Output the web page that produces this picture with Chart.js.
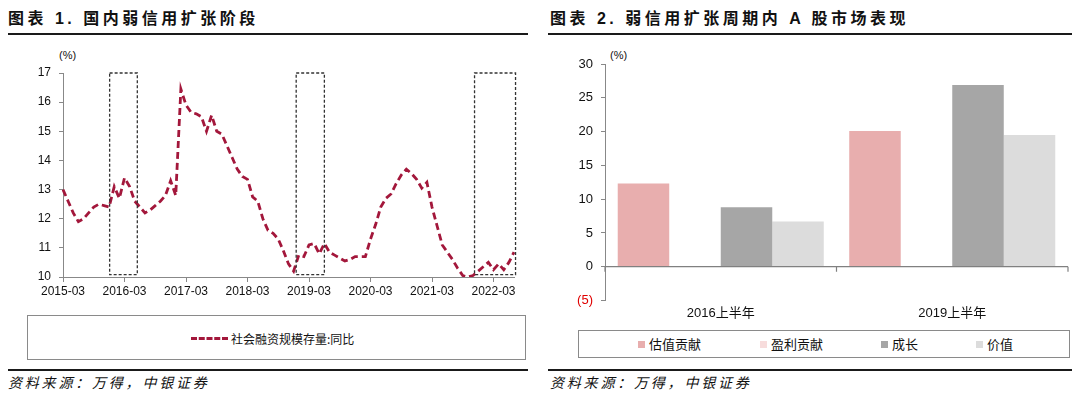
<!DOCTYPE html>
<html>
<head>
<meta charset="utf-8">
<script src="https://cdn.jsdelivr.net/npm/chart.js@4.4.1/dist/chart.umd.min.js"></script>
<style>
  body { margin: 0; width: 1080px; height: 394px; background: #fff; position: relative; overflow: hidden;
         font-family: "Liberation Sans", Arial, "Noto Sans CJK SC", sans-serif; color: #111; }
  .title { position: absolute; top: 5px; font: bold 16px "Liberation Sans", "Noto Sans CJK SC"; letter-spacing: 3.5px; white-space: nowrap; }
  .rule { position: absolute; height: 2px; background: #1a1a1a; }
  .unit { position: absolute; font-size: 11px; }
  .box { position: absolute; border: 1.5px solid #8a8a8a; box-sizing: border-box; }
  .src { position: absolute; top: 372px; font: italic 14px "Noto Sans CJK SC"; letter-spacing: 2.8px; white-space: nowrap; }
  .chart { position: absolute; }
  .leg { position: absolute; font: 12px "Noto Sans CJK SC"; white-space: nowrap; }
  .leg2 { position: absolute; font: 13px "Noto Sans CJK SC"; white-space: nowrap; }
  .sq { display: inline-block; width: 7px; height: 7px; margin-right: 4px; vertical-align: 1px; }
</style>
</head>
<body>
<div class="title" style="left:8px">图表 1. 国内弱信用扩张阶段</div>
<div class="rule" style="left:8px; width:520px; top:33px"></div>
<div class="unit" style="left:59px; top:49px">(%)</div>
<div class="chart" style="left:0; top:40px; width:540px; height:270px"><canvas id="lineChart"></canvas></div>
<div class="box" style="left:27px; top:315px; width:499px; height:45px"></div>
<div class="leg" style="left:191px; top:330px">
  <span style="display:inline-block; width:37px; border-top:3px dashed #a3173b; vertical-align:4px; margin-right:3px"></span>社会融资规模存量:同比</div>
<div class="rule" style="left:8px; width:520px; top:369px"></div>
<div class="src" style="left:8px">资料来源：万得，中银证券</div>

<div class="title" style="left:550px">图表 2. 弱信用扩张周期内 A 股市场表现</div>
<div class="rule" style="left:548px; width:524px; top:33px"></div>
<div class="unit" style="left:610px; top:49px">(%)</div>
<div class="chart" style="left:540px; top:40px; width:540px; height:285px"><canvas id="barChart"></canvas></div>
<div class="box" style="left:578px; top:330px; width:492px; height:28px"></div>
<div class="leg2" style="left:638px; top:334px"><span class="sq" style="background:#e8aeae"></span>估值贡献</div>
<div class="leg2" style="left:760px; top:334px"><span class="sq" style="background:#f7dcdc"></span>盈利贡献</div>
<div class="leg2" style="left:881px; top:334px"><span class="sq" style="background:#a6a6a6"></span>成长</div>
<div class="leg2" style="left:976px; top:334px"><span class="sq" style="background:#dcdcdc"></span>价值</div>
<div class="rule" style="left:548px; width:524px; top:369px"></div>
<div class="src" style="left:550px">资料来源：万得，中银证券</div>

<script>
// monthly labels, 2015-03 .. 2022-07
const months = [
  "2015-03","2015-04","2015-05","2015-06","2015-07","2015-08","2015-09","2015-10","2015-11","2015-12",
  "2016-01","2016-02","2016-03","2016-04","2016-05","2016-06","2016-07","2016-08","2016-09","2016-10","2016-11","2016-12",
  "2017-01","2017-02","2017-03","2017-04","2017-05","2017-06","2017-07","2017-08","2017-09","2017-10","2017-11","2017-12",
  "2018-01","2018-02","2018-03","2018-04","2018-05","2018-06","2018-07","2018-08","2018-09","2018-10","2018-11","2018-12",
  "2019-01","2019-02","2019-03","2019-04","2019-05","2019-06","2019-07","2019-08","2019-09","2019-10","2019-11","2019-12",
  "2020-01","2020-02","2020-03","2020-04","2020-05","2020-06","2020-07","2020-08","2020-09","2020-10","2020-11","2020-12",
  "2021-01","2021-02","2021-03","2021-04","2021-05","2021-06","2021-07","2021-08","2021-09","2021-10","2021-11","2021-12",
  "2022-01","2022-02","2022-03","2022-04","2022-05","2022-06","2022-07"
];
// 社会融资规模存量:同比 (%), one row per year
const tsfYoy = [
  13.0, 12.6, 12.2, 11.9, 12.0, 12.2, 12.4, 12.5, 12.45, 12.4,
  13.1, 12.7, 13.4, 13.1, 12.6, 12.4, 12.2, 12.3, 12.45, 12.6, 12.8, 13.3,
  12.8, 16.45, 15.9, 15.65, 15.6, 15.5, 15.0, 15.55, 15.0, 14.9, 14.5, 14.1,
  13.7, 13.45, 13.35, 12.75, 12.6, 12.0, 11.6, 11.5, 11.3, 10.9, 10.45, 10.2,
  10.75, 10.7, 11.1, 11.15, 10.8, 11.15, 10.85, 10.75, 10.65, 10.55, 10.6, 10.7,
  10.7, 10.7, 11.3, 11.8, 12.4, 12.7, 12.85, 13.2, 13.5, 13.7, 13.55, 13.35,
  13.05, 13.25, 12.4, 11.75, 11.1, 10.85, 10.6, 10.3, 10.05, 10.0, 10.05, 10.2,
  10.35, 10.5, 10.25, 10.45, 10.25, 10.5, 10.85
];
// weak credit expansion windows, in month index units
const boxStart = [9.1, 45.5, 80.3];
const boxEnd = [14.5, 51.0, 88.3];
const boxTop = 17;
const boxBottom = 10.08;

// chart 2
const periods = ["2016上半年", "2019上半年"];
const valuation = [12.3, 20.1];
const earnings = [0, 0];
const growth = [8.8, 26.9];
const value = [6.7, 19.5];

const tickFont = { family: '"Liberation Sans"', size: 12 };

const boxPlugin = {
  id: "boxes",
  afterDatasetsDraw(chart) {
    const { ctx, scales: { x, y } } = chart;
    const x0 = x.getPixelForValue(0);
    const step = x.getPixelForValue(1) - x0;
    ctx.save();
    ctx.strokeStyle = "#333";
    ctx.lineWidth = 1.3;
    ctx.setLineDash([3, 2]);
    boxStart.forEach((s, i) => {
      const l = x0 + s * step, r = x0 + boxEnd[i] * step;
      const t = y.getPixelForValue(boxTop), b = y.getPixelForValue(boxBottom);
      ctx.strokeRect(l, t, r - l, b - t);
    });
    ctx.restore();
  }
};

new Chart(document.getElementById("lineChart"), {
  type: "line",
  data: {
    labels: months,
    datasets: [{
      label: "社会融资规模存量:同比",
      data: tsfYoy,
      borderColor: "#a3173b",
      borderWidth: 2.8,
      borderDash: [7, 4],
      pointRadius: 0,
      tension: 0,
    }],
  },
  options: {
    animation: false,
    responsive: true,
    maintainAspectRatio: false,
    layout: { padding: { top: 33, right: 26, left: 0, bottom: 0 } },
    plugins: { legend: { display: false }, tooltip: { enabled: false } },
    scales: {
      x: {
        grid: { drawOnChartArea: false, tickLength: 5, color: "#888" },
        border: { color: "#888" },
        ticks: {
          autoSkip: false, maxRotation: 0, padding: 2, color: "#111", font: tickFont,
          callback: (v, i) => months[i].endsWith("-03") ? months[i] : null,
        },
        afterFit: (s) => { s.height = 33; },
      },
      y: {
        min: 10, max: 17,
        grid: { drawOnChartArea: false, tickLength: 4, color: "#888" },
        border: { color: "#888" },
        ticks: { stepSize: 1, padding: 8, color: "#111", font: tickFont },
        afterFit: (s) => { s.width = 63; },
      },
    },
  },
  plugins: [boxPlugin],
});

const zeroAxis = {
  id: "zeroAxis",
  afterDatasetsDraw(chart) {
    const { ctx, chartArea, scales: { x, y } } = chart;
    const y0 = y.getPixelForValue(0);
    const half = (x.getPixelForValue(1) - x.getPixelForValue(0)) / 2;
    ctx.save();
    ctx.strokeStyle = "#808080";
    ctx.lineWidth = 1.2;
    ctx.beginPath();
    ctx.moveTo(chartArea.left, y0);
    ctx.lineTo(chartArea.right, y0);
    [x.getPixelForValue(0) - half, x.getPixelForValue(0) + half, x.getPixelForValue(1) + half].forEach((px) => {
      ctx.moveTo(px, y0);
      ctx.lineTo(px, y0 + 5);
    });
    ctx.stroke();
    ctx.restore();
  }
};

new Chart(document.getElementById("barChart"), {
  type: "bar",
  data: {
    labels: periods,
    datasets: [
      { label: "估值贡献", data: valuation, backgroundColor: "#e8aeae" },
      { label: "盈利贡献", data: earnings, backgroundColor: "#f7dcdc" },
      { label: "成长", data: growth, backgroundColor: "#a6a6a6" },
      { label: "价值", data: value, backgroundColor: "#dcdcdc" },
    ],
  },
  options: {
    animation: false,
    responsive: true,
    maintainAspectRatio: false,
    layout: { padding: { top: 24, right: 12, left: 0, bottom: 0 } },
    datasets: { bar: { barPercentage: 1, categoryPercentage: 0.89 } },
    plugins: { legend: { display: false }, tooltip: { enabled: false } },
    scales: {
      x: {
        grid: { display: false, drawTicks: false },
        border: { display: false },
        ticks: { padding: 5, color: "#111", font: { family: '"Liberation Sans", "Noto Sans CJK SC"', size: 13 } },
        afterFit: (s) => { s.height = 24.5; },
      },
      y: {
        min: -5, max: 30,
        grid: { drawOnChartArea: false, tickLength: 4, color: "#888" },
        border: { color: "#888" },
        ticks: {
          stepSize: 5, padding: 8, font: { family: '"Liberation Sans"', size: 13 },
          color: (c) => c.tick.value < 0 ? "#e00000" : "#111",
          callback: (v) => v < 0 ? "(" + (-v) + ")" : v,
        },
        afterFit: (s) => { s.width = 65; },
      },
    },
  },
  plugins: [zeroAxis],
});
</script>
</body>
</html>
